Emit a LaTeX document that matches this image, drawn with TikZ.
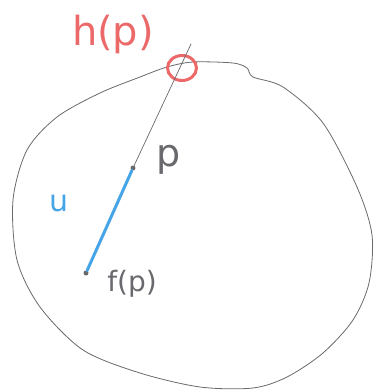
\documentclass[tikz,border=0pt]{standalone}
\usepackage{fontspec}
\setmainfont{DejaVu Sans}
\usetikzlibrary{shapes.geometric}
\begin{document}
\begin{tikzpicture}[x=1pt,y=-1pt,
  pencil/.style={draw=pencilgray,line width=0.9pt,line cap=round,line join=round},
  dotmark/.style={circle,fill=pencilgray,inner sep=0pt,minimum size=5pt},
  lbl/.style={inner sep=0pt,font=\fontsize{#1}{#1}\selectfont},
]
\definecolor{pencilgray}{RGB}{105,105,110}
\definecolor{redpen}{RGB}{236,105,105}
\definecolor{bluepen}{RGB}{70,165,230}
\useasboundingbox (0,0) rectangle (376,392);
% outline of the region
\draw[pencil,line width=0.8pt] plot[smooth cycle,tension=0.5] coordinates {
 (167,67) (193,62) (233,63) (247,68) (253,77) (283,87) (323,123) (357,187)
 (372,235) (369,283) (353,320) (323,353) (287,377) (253,388) (200,387)
 (140,373) (83,350) (40,307) (17,260) (13,200) (27,150) (57,117) (100,93) (140,77)};
% points
\node[dotmark] (p) at (133,168) {};
\node[dotmark] (fp) at (86,273) {};
\coordinate (top) at (191,44);
\node[draw=redpen,line width=3pt,ellipse,minimum width=29pt,minimum height=25pt,inner sep=0pt] (hp) at (182,68) {};
% ray
\draw[pencil,line width=0.7pt] (p) -- (top);
% segment u
\draw[bluepen,line width=3pt,line cap=round] (p) -- (fp);
% labels
\node[lbl=40,text=redpen] (hl) at (113,34) {h(p)};
\node[lbl=38,text=pencilgray] (pl) at (169,160) {p};
\node[lbl=30,text=bluepen] (ul) at (59,203) {u};
\node[lbl=28,text=pencilgray] (fl) at (132,284) {f(p)};
\end{tikzpicture}
\end{document}
